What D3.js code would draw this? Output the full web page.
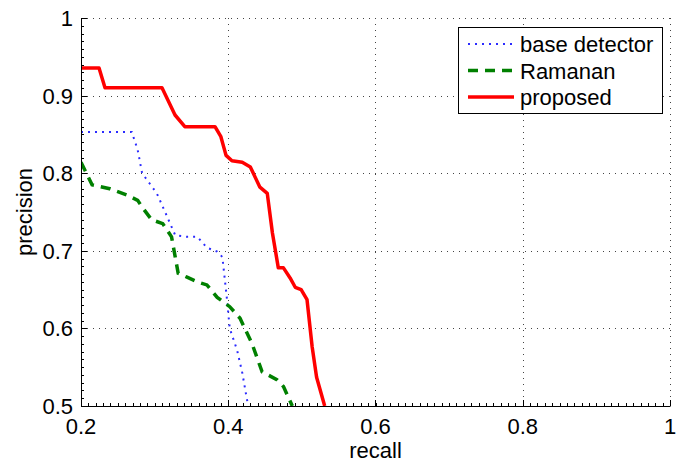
<!DOCTYPE html>
<html lang="en">

<head>
    <meta charset="UTF-8">
    <title>precision recall</title>
    <script src="https://cdn.jsdelivr.net/npm/d3@7"></script>
    <style>
        body {
            margin: 0;
            background: #fff;
        }

        text {
            font-family: "Liberation Sans", Arial, sans-serif;
            font-size: 22px;
            fill: #000;
        }
    </style>
</head>

<body>
    <svg width="676" height="465" id="main"></svg>

    <script>
        // x ticks / y ticks
        let x_ticks = [0.2, 0.4, 0.6, 0.8, 1]
        let y_ticks = [0.5, 0.6, 0.7, 0.8, 0.9, 1]

        // base detector (blue dotted)
        let base_recall = [0.2, 0.269, 0.277, 0.283, 0.303, 0.317, 0.328, 0.344, 0.358, 0.371, 0.385, 0.392, 0.398, 0.402, 0.412, 0.419, 0.427]
        let base_precision = [0.853, 0.853, 0.83, 0.80, 0.774, 0.744, 0.72, 0.718, 0.718, 0.704, 0.699, 0.692, 0.64, 0.6, 0.572, 0.543, 0.5]

        // Ramanan (green dashed)
        let ramanan_recall = [0.2, 0.215, 0.239, 0.262, 0.277, 0.284, 0.296, 0.311, 0.323, 0.332, 0.344, 0.358, 0.371, 0.385, 0.402, 0.416, 0.432, 0.446, 0.466, 0.475, 0.487]
        let ramanan_precision = [0.814, 0.785, 0.78, 0.772, 0.765, 0.755, 0.74, 0.735, 0.718, 0.671, 0.666, 0.66, 0.656, 0.64, 0.628, 0.613, 0.581, 0.544, 0.534, 0.525, 0.5]

        // proposed (red solid)
        let proposed_recall = [0.2, 0.2245, 0.2326, 0.31, 0.3277, 0.341, 0.382, 0.39, 0.397, 0.405, 0.419, 0.43, 0.443, 0.453, 0.46, 0.468, 0.475, 0.484, 0.491, 0.499, 0.507, 0.514, 0.52, 0.531]
        let proposed_precision = [0.9356, 0.9356, 0.91, 0.91, 0.875, 0.86, 0.86, 0.847, 0.823, 0.816, 0.814, 0.808, 0.782, 0.774, 0.723, 0.678, 0.678, 0.665, 0.653, 0.65, 0.637, 0.576, 0.537, 0.5]

        let series_names = ["base detector", "Ramanan", "proposed"]

        let svg = d3.select("#main")
        let m_left = 81, m_right = 670, m_top = 18, m_bottom = 406

        let x = d3.scaleLinear().domain([0.2, 1]).range([m_left, m_right])
        let y = d3.scaleLinear().domain([0.5, 1]).range([m_bottom, m_top])

        // grid (dotted)
        let grid = svg.append("g")
            .attr("stroke", "#444")
            .attr("stroke-width", 1)
            .attr("stroke-dasharray", "1,5")
        grid.selectAll(".gx").data(x_ticks.slice(1)).join("line")
            .attr("x1", d => Math.round(x(d)) + 0.5).attr("x2", d => Math.round(x(d)) + 0.5)
            .attr("y1", m_top).attr("y2", m_bottom)
        grid.selectAll(".gy").data(y_ticks.slice(1)).join("line")
            .attr("x1", m_left).attr("x2", m_right)
            .attr("y1", d => Math.round(y(d)) + 0.5).attr("y2", d => Math.round(y(d)) + 0.5)

        // minor ticks (inward)
        let x_minor = d3.range(0, 81).map(i => 0.2 + i * 0.01)
        let y_minor = d3.range(0, 51).map(i => 0.5 + i * 0.01)
        let ticks = svg.append("g").attr("stroke", "#000").attr("stroke-width", 1)
        ticks.selectAll(".mx").data(x_minor).join("line")
            .attr("x1", d => Math.round(x(d)) + 0.5).attr("x2", d => Math.round(x(d)) + 0.5)
            .attr("y1", m_bottom).attr("y2", m_bottom - 3)
        ticks.selectAll(".my").data(y_minor).join("line")
            .attr("x1", m_left).attr("x2", m_left + 3)
            .attr("y1", d => Math.round(y(d)) + 0.5).attr("y2", d => Math.round(y(d)) + 0.5)
        // major ticks
        ticks.selectAll(".tx").data(x_ticks).join("line")
            .attr("x1", d => Math.round(x(d)) + 0.5).attr("x2", d => Math.round(x(d)) + 0.5)
            .attr("y1", m_bottom).attr("y2", m_bottom - 6)
        ticks.selectAll(".ty").data(y_ticks).join("line")
            .attr("x1", m_left).attr("x2", m_left + 6)
            .attr("y1", d => Math.round(y(d)) + 0.5).attr("y2", d => Math.round(y(d)) + 0.5)

        // curves
        svg.append("clipPath").attr("id", "clip")
            .append("rect").attr("x", m_left).attr("y", m_top)
            .attr("width", m_right - m_left).attr("height", m_bottom - m_top)

        let line = d3.line().x(d => x(d[0])).y(d => y(d[1]))
        let curves = svg.append("g").attr("clip-path", "url(#clip)").attr("fill", "none")

        curves.append("path")
            .attr("d", line(d3.zip(base_recall, base_precision)))
            .attr("stroke", "#2b2bff").attr("stroke-width", 2)
            .attr("stroke-dasharray", "2,5")
        curves.append("path")
            .attr("d", line(d3.zip(ramanan_recall, ramanan_precision)))
            .attr("stroke", "#008000").attr("stroke-width", 3.5)
            .attr("stroke-dasharray", "10,7")
        curves.append("path")
            .attr("d", line(d3.zip(proposed_recall, proposed_precision)))
            .attr("stroke", "#ff0000").attr("stroke-width", 3.5)
            .attr("stroke-linejoin", "round")

        // axis lines
        svg.append("path")
            .attr("d", `M${m_left + 0.5},${m_top}V${m_bottom + 0.5}H${m_right + 0.5}`)
            .attr("fill", "none").attr("stroke", "#000").attr("stroke-width", 1)

        // tick labels
        svg.selectAll(".xl").data(x_ticks).join("text")
            .attr("x", d => x(d)).attr("y", 434)
            .attr("text-anchor", "middle")
            .text(d => d3.format("")(d))
        svg.selectAll(".yl").data(y_ticks).join("text")
            .attr("x", 73).attr("y", d => y(d) + 8)
            .attr("text-anchor", "end")
            .text(d => d3.format("")(d))

        // axis titles
        svg.append("text").attr("x", (m_left + m_right) / 2).attr("y", 458)
            .attr("text-anchor", "middle").text("recall")
        svg.append("text")
            .attr("transform", `translate(32,${(m_top + m_bottom) / 2}) rotate(-90)`)
            .attr("text-anchor", "middle").text("precision")

        // legend
        let legend = svg.append("g")
        legend.append("rect")
            .attr("x", 458.5).attr("y", 27.5).attr("width", 204).attr("height", 86)
            .attr("fill", "#fff").attr("stroke", "#000").attr("stroke-width", 1)
        let styles = [
            { stroke: "#2b2bff", width: 2, dash: "2,5" },
            { stroke: "#008000", width: 3.5, dash: "10,7" },
            { stroke: "#ff0000", width: 3.5, dash: null }
        ]
        series_names.forEach(function (name, i) {
            let cy = 44 + i * 26.5
            legend.append("line")
                .attr("x1", 468).attr("x2", 514).attr("y1", cy).attr("y2", cy)
                .attr("stroke", styles[i].stroke).attr("stroke-width", styles[i].width)
                .attr("stroke-dasharray", styles[i].dash)
            legend.append("text").attr("x", 520).attr("y", cy + 8).text(name)
        })
    </script>
</body>

</html>
